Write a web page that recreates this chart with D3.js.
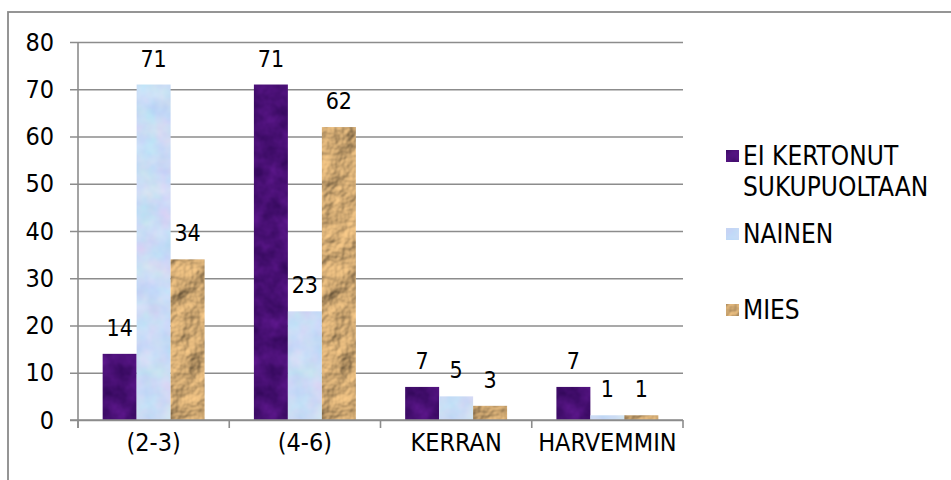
<!DOCTYPE html>
<html><head><meta charset="utf-8">
<script src="https://cdn.jsdelivr.net/npm/d3@7"></script>
<style>
html,body{margin:0;padding:0;background:#fff;}
svg{display:block;font-family:"DejaVu Sans Condensed","DejaVu Sans",sans-serif;}
filter{color-interpolation-filters:sRGB;}
</style></head>
<body><svg id="c" width="951" height="480"></svg>
<script>
const categories = ["(2-3)", "(4-6)", "KERRAN", "HARVEMMIN"];
const seriesNames = ["EI KERTONUT SUKUPUOLTAAN", "NAINEN", "MIES"];
const eiKertonut = [14, 71, 7, 7];
const nainen = [71, 23, 5, 1];
const mies = [34, 62, 3, 1];
const yTicks = [0, 10, 20, 30, 40, 50, 60, 70, 80];
const legendLines = [["EI KERTONUT", "SUKUPUOLTAAN"], ["NAINEN"], ["MIES"]];

(function(){
const seriesValues = [eiKertonut, nainen, mies];
const texIds = ["texPurple", "texBlue", "texBrown"];
const FONT = '"DejaVu Sans Condensed","DejaVu Sans",sans-serif';

const svg = d3.select("#c");
const defs = svg.append("defs");

function mkFilter(id){
  return defs.append("filter").attr("id",id).attr("filterUnits","userSpaceOnUse")
    .attr("color-interpolation-filters","sRGB")
    .attr("x",0).attr("y",0).attr("width",951).attr("height",480);
}
function purpleFilter(){
  const f = mkFilter("texPurple");
  f.append("feTurbulence").attr("type","fractalNoise").attr("baseFrequency","0.06").attr("numOctaves",3).attr("seed",7).attr("result","n");
  f.append("feColorMatrix").attr("in","n").attr("type","matrix")
    .attr("values","0.22 0 0 0 0.17  0.08 0 0 0 0.02  0.26 0 0 0 0.32  0 0 0 0 1").attr("result","c");
  f.append("feComposite").attr("in","c").attr("in2","SourceGraphic").attr("operator","in");
}
function blueFilter(){
  const f = mkFilter("texBlue");
  f.append("feTurbulence").attr("type","fractalNoise").attr("baseFrequency","0.05").attr("numOctaves",3).attr("seed",3).attr("result","n");
  f.append("feColorMatrix").attr("in","n").attr("type","matrix")
    .attr("values","0.18 0 0 0 0.70  0 -0.12 0 0 0.92  0 0 0.06 0 0.93  0 0 0 0 1").attr("result","c");
  f.append("feComposite").attr("in","c").attr("in2","SourceGraphic").attr("operator","in");
}
function brownFilter(){
  const f = mkFilter("texBrown");
  f.append("feTurbulence").attr("type","fractalNoise").attr("baseFrequency","0.035").attr("numOctaves",4).attr("seed",11).attr("result","n");
  const l = f.append("feDiffuseLighting").attr("in","n").attr("surfaceScale",4).attr("lighting-color","#ffcf8c").attr("result","l");
  l.append("feDistantLight").attr("azimuth",225).attr("elevation",55);
  f.append("feComposite").attr("in","l").attr("in2","SourceGraphic").attr("operator","in");
}
purpleFilter(); blueFilter(); brownFilter();
const baseColors = ["#471374", "#cbd9f5", "#c9a06c"];

svg.append("rect").attr("x",8).attr("y",12).attr("width",1000).attr("height",600)
  .attr("fill","none").attr("stroke","#8a8a8a").attr("stroke-width",1.8);

const pLeft = 78, pRight = 683, pTop = 42, pBottom = 420;
const x = d3.scaleBand().domain(categories).range([pLeft, pRight]).paddingInner(0).paddingOuter(0);
const bw = x.bandwidth();
const x1 = d3.scaleBand().domain(seriesNames).range([bw*0.163, bw*0.837]).padding(0);
const y = d3.scaleLinear().domain([0, 80]).range([pBottom, pTop]);

const yAxis = d3.axisLeft(y).tickValues(yTicks).tickSize(pRight - pLeft + 8).tickFormat(d3.format("d"));
const gy = svg.append("g").attr("transform", `translate(${pRight},0)`).call(yAxis);
gy.select(".domain").remove();
gy.selectAll(".tick line").attr("stroke","#8c8c8c").attr("stroke-width",1.4);
gy.selectAll(".tick text").attr("x", -(pRight - pLeft) - 24).attr("font-size",25).attr("fill","#000")
  .attr("font-family",FONT);

const groups = svg.append("g").selectAll("g").data(categories).join("g")
  .attr("transform", d => `translate(${x(d)},0)`);
seriesNames.forEach((s, si) => {
  groups.append("rect")
    .attr("x", x1(s)).attr("width", x1.bandwidth())
    .attr("y", (d,i) => y(seriesValues[si][i]))
    .attr("height", (d,i) => pBottom - y(seriesValues[si][i]))
    .attr("fill", baseColors[si])
    .attr("filter", `url(#${texIds[si]})`);
});

svg.append("line").attr("x1",pLeft).attr("x2",pLeft).attr("y1",pTop).attr("y2",pBottom+8)
  .attr("stroke","#8c8c8c").attr("stroke-width",1.6);
const xAxis = d3.axisBottom(x).tickSize(0).tickPadding(26);
const gx = svg.append("g").attr("transform", `translate(0,${pBottom})`).call(xAxis);
gx.select(".domain").remove();
gx.selectAll(".tick text").attr("font-size",25).attr("fill","#000")
  .attr("font-family",FONT).attr("dy","0.2em");
svg.append("line").attr("x1",pLeft-8).attr("x2",pRight).attr("y1",pBottom).attr("y2",pBottom)
  .attr("stroke","#8c8c8c").attr("stroke-width",1.6);
const bounds = categories.map(c => x(c)).concat([pRight]);
svg.append("g").selectAll("line").data(bounds).join("line")
  .attr("x1", d=>d).attr("x2", d=>d).attr("y1", pBottom).attr("y2", pBottom+8)
  .attr("stroke","#8c8c8c").attr("stroke-width",1.6);

seriesNames.forEach((s, si) => {
  groups.append("text")
    .attr("x", x1(s) + x1.bandwidth()/2)
    .attr("y", (d,i) => y(seriesValues[si][i]) - 18)
    .attr("text-anchor","middle").attr("font-size",23).attr("fill","#000")
    .text((d,i) => seriesValues[si][i]);
});

const legY = [156, 234, 310];
const lg = svg.append("g");
seriesNames.forEach((s, si) => {
  lg.append("rect").attr("x",726).attr("y",legY[si]-6).attr("width",13).attr("height",12)
    .attr("fill", baseColors[si]).attr("filter", `url(#${texIds[si]})`);
  const t = lg.append("text").attr("x",743).attr("y",legY[si])
    .attr("font-size",26).attr("fill","#000");
  legendLines[si].forEach((ln, li) => {
    t.append("tspan").attr("x",743).attr("dy", li===0 ? "0.36em" : 31).text(ln);
  });
});
})();
</script>
</body></html>
